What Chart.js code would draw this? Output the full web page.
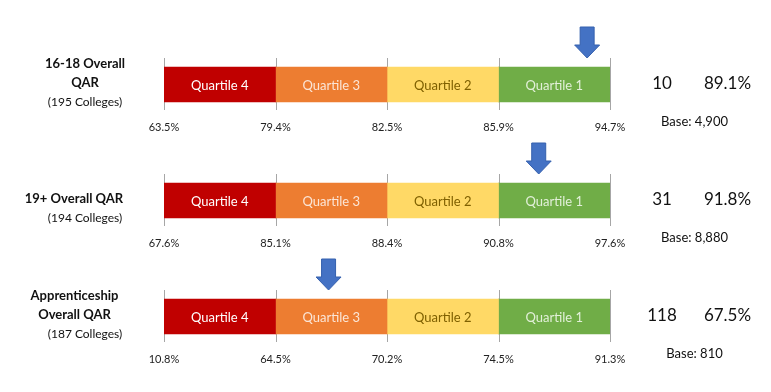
<!DOCTYPE html>
<html><head><meta charset="utf-8">
<script src="https://cdn.jsdelivr.net/npm/chart.js@4"></script>
<style>body{margin:0;background:#fff}canvas{display:block}</style>
</head><body>
<canvas id="c" width="771" height="392"></canvas>
<script>
// ---- data ----
const measures = ['16-18 Overall QAR', '19+ Overall QAR', 'Apprenticeship Overall QAR'];
const titleLines = [['16-18 Overall', 'QAR'], ['19+ Overall QAR'], ['Apprenticeship', 'Overall QAR']];
const collegeCounts = [195, 194, 187];
const quartileNames = ['Quartile 4', 'Quartile 3', 'Quartile 2', 'Quartile 1'];
const quartileShare = [25, 25, 25, 25]; // % of colleges in each quartile
const thresholds1618 = [63.5, 79.4, 82.5, 85.9, 94.7];
const thresholds19 = [67.6, 85.1, 88.4, 90.8, 97.6];
const thresholdsApp = [10.8, 64.5, 70.2, 74.5, 91.3];
const ranks = [10, 31, 118];
const rates = [89.1, 91.8, 67.5];
const bases = [4900, 8880, 810];

// ---- styles ----
const FONT = 'Lato, "Open Sans", sans-serif';
const barColors = ['#C00000', '#ED7D31', '#FFD966', '#70AD47'];
const textColors = ['#FFFFFF', '#FBE5D6', '#7F6000', '#E2F0D9'];
const thresholds = [thresholds1618, thresholds19, thresholdsApp];

const overlay = {
  id: 'overlay',
  beforeDatasetsDraw(chart) {
    const ctx = chart.ctx, xs = chart.scales.x, ys = chart.scales.y;
    ctx.save();
    ctx.strokeStyle = '#A6A6A6';
    ctx.lineWidth = 1;
    measures.forEach((m, i) => {
      const yc = ys.getPixelForValue(i);
      let cum = 0;
      for (let k = 0; k <= quartileShare.length; k++) {
        const x = Math.round(xs.getPixelForValue(cum)) + 0.5;
        ctx.beginPath();
        ctx.moveTo(x, yc - 26.5);
        ctx.lineTo(x, yc + 25.5);
        ctx.stroke();
        if (k < quartileShare.length) cum += quartileShare[k];
      }
    });
    ctx.restore();
  },
  afterDatasetsDraw(chart) {
    const ctx = chart.ctx, xs = chart.scales.x, ys = chart.scales.y, ca = chart.chartArea;
    ctx.save();
    ctx.textBaseline = 'middle';
    ctx.textAlign = 'center';
    // segment labels
    chart.data.datasets.forEach((ds, d) => {
      const meta = chart.getDatasetMeta(d);
      meta.data.forEach((el) => {
        ctx.fillStyle = textColors[d];
        ctx.font = '13px ' + FONT;
        ctx.fillText(ds.label, (el.x + el.base) / 2, el.y + 1);
      });
    });
    const titleX = [ca.left - 79, ca.left - 90, ca.left - 89.5];
    measures.forEach((m, i) => {
      const yc = ys.getPixelForValue(i);
      // threshold labels
      let cum = 0;
      ctx.fillStyle = '#222';
      ctx.font = '11px ' + FONT;
      thresholds[i].forEach((v, k) => {
        ctx.fillText(v.toFixed(1) + '%', xs.getPixelForValue(cum), yc + 42.5);
        if (k < quartileShare.length) cum += quartileShare[k];
      });
      // arrow
      const xa = xs.getPixelForValue(100 * (1 - ranks[i] / collegeCounts[i]));
      const tip = yc - 26.5, top = yc - 57.5, headH = 13, headW = 12.5, shaftW = 7;
      ctx.beginPath();
      ctx.moveTo(xa - shaftW, top);
      ctx.lineTo(xa + shaftW, top);
      ctx.lineTo(xa + shaftW, tip - headH);
      ctx.lineTo(xa + headW, tip - headH);
      ctx.lineTo(xa, tip);
      ctx.lineTo(xa - headW, tip - headH);
      ctx.lineTo(xa - shaftW, tip - headH);
      ctx.closePath();
      ctx.fillStyle = '#4472C4';
      ctx.fill();
      ctx.strokeStyle = '#3560AE';
      ctx.lineWidth = 1;
      ctx.stroke();
      // left titles
      ctx.fillStyle = '#111';
      const lines = titleLines[i];
      ctx.font = 'bold 13px ' + FONT;
      lines.forEach((t, j) => {
        ctx.fillText(t, titleX[i], yc - 1.5 - (lines.length - 1 - j) * 19.5);
      });
      ctx.font = '12px ' + FONT;
      ctx.fillText('(' + collegeCounts[i] + ' Colleges)', ca.left - 79, yc + 17.5);
      // right values
      ctx.font = '17px ' + FONT;
      ctx.fillText(String(ranks[i]), ca.right + 52, yc - 1);
      ctx.fillText(rates[i].toFixed(1) + '%', ca.right + 117.5, yc - 1);
      ctx.font = '13px ' + FONT;
      ctx.fillText('Base: ' + bases[i].toLocaleString('en-GB'), ca.right + 84.5, yc + 37.5);
    });
    ctx.restore();
  }
};

new Chart(document.getElementById('c'), {
  type: 'bar',
  data: {
    labels: measures,
    datasets: quartileNames.map((q, d) => ({
      label: q,
      data: measures.map(() => quartileShare[d]),
      backgroundColor: barColors[d],
      borderWidth: 0,
      barThickness: 35
    }))
  },
  options: {
    indexAxis: 'y',
    responsive: false,
    animation: false,
    layout: { padding: { left: 164, right: 161, top: 26.5, bottom: 17.5 } },
    scales: {
      x: { stacked: true, min: 0, max: 100, display: false },
      y: { stacked: true, display: false }
    },
    plugins: { legend: { display: false }, tooltip: { enabled: false } }
  },
  plugins: [overlay]
});
</script>
</body></html>
